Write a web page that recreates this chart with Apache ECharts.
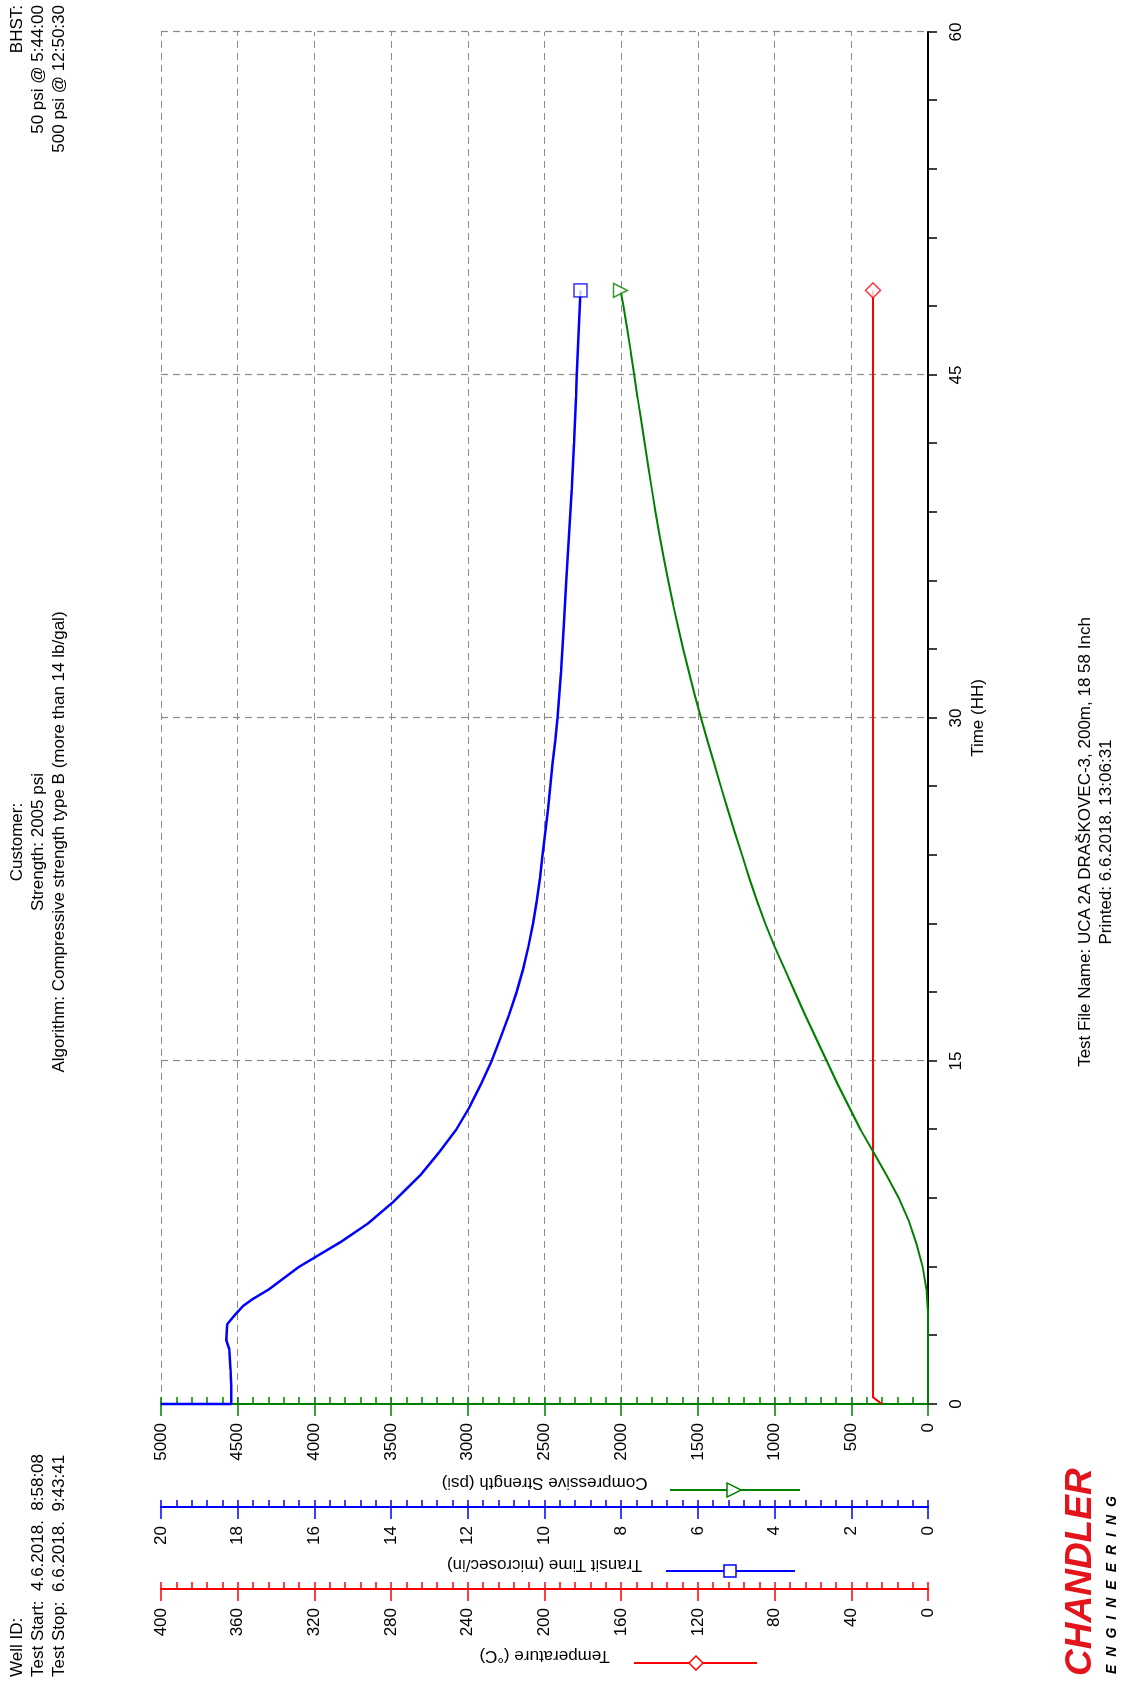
<!DOCTYPE html>
<html>
<head>
<meta charset="utf-8">
<script src="https://cdn.jsdelivr.net/npm/echarts@6/dist/echarts.min.js"></script>
<style>
html,body{margin:0;padding:0;background:#fff;width:1122px;height:1684px;overflow:hidden;}
#page{position:absolute;left:0;top:0;width:1684px;height:1122px;transform-origin:0 0;transform:translate(0px,1684px) rotate(-90deg);font-family:"Liberation Sans",Arial,sans-serif;color:#000;background:#fff;}
#chart{position:absolute;left:0;top:0;width:1684px;height:1122px;}
.t{position:absolute;font-size:17px;line-height:21px;white-space:pre;}
</style>
</head>
<body>
<div id="page">
  <div id="chart"></div>
  <div class="t" style="left:7px;top:6px;text-align:left;">Well ID:
Test Start:  4.6.2018.  8:58:08
Test Stop:  6.6.2018.  9:43:41</div>
  <div class="t" style="left:0;width:1684px;top:6px;text-align:center;">Customer:
Strength: 2005 psi
Algorithm: Compressive strength type B (more than 14 lb/gal)</div>
  <div class="t" style="right:5px;top:6px;text-align:right;">BHST:
50 psi @ 5:44:00
500 psi @ 12:50:30</div>
  <div class="t" style="left:0;width:1684px;top:1074px;text-align:center;">Test File Name: UCA 2A DRAŠKOVEC-3, 200m, 18 58 Inch
Printed: 6.6.2018. 13:06:31</div>
  <div style="position:absolute;left:8px;top:1058px;font:italic bold 37px 'Liberation Sans',Arial,sans-serif;color:#e3141b;line-height:42px;white-space:pre;">CHANDLER</div>
  <div style="position:absolute;left:10px;top:1103px;font:italic bold 14px 'Liberation Sans',Arial,sans-serif;color:#000;letter-spacing:8px;line-height:17px;white-space:pre;">ENGINEERING</div>
</div>
<script>
// ---- data ----
const timeTicks = [0, 15, 30, 45, 60];

const strengthTime = [0, 4.0, 5, 6, 7, 8, 9, 10, 11, 12, 13, 14, 15, 16, 17, 18, 19, 20, 21, 22, 23, 24, 25, 26, 27, 28, 29, 30, 31, 32, 33, 34, 35, 36, 37, 38, 39, 40, 41, 42, 43, 44, 45, 46, 47, 48, 48.7];
const strengthPsi = [0, 0, 10, 35, 75, 125, 190, 270, 355, 440, 515, 590, 660, 730, 800, 867, 933, 1000, 1060, 1115, 1165, 1212, 1260, 1305, 1350, 1393, 1437, 1480, 1520, 1558, 1595, 1630, 1663, 1693, 1722, 1750, 1776, 1800, 1824, 1847, 1870, 1893, 1915, 1937, 1960, 1985, 2005];

const transitTime = [0, 0, 0.8, 1.5, 2.4, 2.8, 3.5, 3.9, 4.3, 4.6, 5.0, 5.5, 6.0, 6.4, 7.1, 7.9, 8.8, 10, 11, 12, 13, 14, 15, 16, 17, 18, 19, 20, 21, 22, 23, 24, 25, 26, 27, 28, 29, 30, 32, 34, 36, 38, 40, 42, 44, 45, 47, 48.7];
const transitUs = [20, 18.17, 18.17, 18.19, 18.22, 18.3, 18.27, 18.07, 17.85, 17.6, 17.2, 16.8, 16.4, 16.0, 15.3, 14.6, 13.97, 13.24, 12.75, 12.3, 11.95, 11.65, 11.38, 11.15, 10.93, 10.73, 10.56, 10.42, 10.3, 10.2, 10.12, 10.05, 9.98, 9.91, 9.85, 9.79, 9.72, 9.66, 9.57, 9.5, 9.43, 9.36, 9.29, 9.23, 9.18, 9.16, 9.11, 9.06];

const tempTime = [0, 0.3, 48.7];
const tempC = [24, 28.7, 28.7];

// ---- build ----
const pairs = (xs, ys) => xs.map((x, i) => [x, ys[i]]);
const last = (xs, ys) => [[xs[xs.length - 1], ys[ys.length - 1]]];

const GREEN = '#008000', BLUE = '#0000ff', RED = '#ff0000';
const FONT = 'Liberation Sans';
const gridLine = { show: true, lineStyle: { color: '#8a8a8a', width: 1.2, type: [7, 5] } };
const plain = v => String(Math.round(v * 100) / 100);

function mainAxis(color, min, max, interval, offset, name, nameGap, split) {
  return {
    type: 'value', position: 'left', min, max, interval, offset,
    axisLine: { show: true, onZero: false, lineStyle: { color, width: 2 } },
    axisTick: { show: true, inside: false, length: 12, lineStyle: { color, width: 1.5 } },
    axisLabel: { color: '#000', fontSize: 17, fontFamily: FONT, margin: 19, formatter: plain },
    splitLine: split ? gridLine : { show: false },
    name, nameLocation: 'middle', nameRotate: 90, nameGap,
    nameTextStyle: { color: '#000', fontSize: 17, fontFamily: FONT }
  };
}
function minorAxis(color, min, max, interval, offset) {
  return {
    type: 'value', position: 'left', min, max, interval, offset,
    axisLine: { show: true, onZero: false, lineStyle: { color, width: 2 } },
    axisTick: { show: true, inside: true, length: 7, lineStyle: { color, width: 1.5 } },
    axisLabel: { show: false },
    splitLine: { show: false }
  };
}

const chart = echarts.init(document.getElementById('chart'), null, { renderer: 'canvas' });
chart.setOption({
  animation: false,
  backgroundColor: '#fff',
  textStyle: { fontFamily: FONT },
  grid: { left: 280, right: 32, top: 161, bottom: 194, containLabel: false },
  xAxis: {
    type: 'value', min: timeTicks[0], max: timeTicks[timeTicks.length - 1], interval: timeTicks[1] - timeTicks[0],
    axisLine: { show: true, onZero: false, lineStyle: { color: '#000', width: 2 } },
    axisTick: { show: true, length: 9, lineStyle: { color: '#000', width: 1.5 } },
    minorTick: { show: true, splitNumber: 5, length: 9, lineStyle: { color: '#000', width: 1.5 } },
    axisLabel: { color: '#000', fontSize: 17, fontFamily: FONT, margin: 20, formatter: plain },
    splitLine: gridLine,
    name: 'Time (HH)', nameLocation: 'middle', nameGap: 40,
    nameTextStyle: { color: '#000', fontSize: 17, fontFamily: FONT }
  },
  yAxis: [
    mainAxis(GREEN, 0, 5000, 500, 0, 'Compressive Strength (psi)', 70, true),
    minorAxis(GREEN, 0, 5000, 100, 0),
    mainAxis(BLUE, 0, 20, 2, 103, 'Transit Time (microsec/in)', 47, false),
    minorAxis(BLUE, 0, 20, 0.4, 103),
    mainAxis(RED, 0, 400, 40, 185, 'Temperature (°C)', 56, false),
    minorAxis(RED, 0, 400, 8, 185)
  ],
  series: [
    { type: 'line', yAxisIndex: 4, data: pairs(tempTime, tempC), showSymbol: false, lineStyle: { color: RED, width: 2 }, z: 3 },
    { type: 'line', yAxisIndex: 0, data: pairs(strengthTime, strengthPsi), showSymbol: false, lineStyle: { color: GREEN, width: 2 }, z: 4 },
    { type: 'line', yAxisIndex: 2, data: pairs(transitTime, transitUs), showSymbol: false, lineStyle: { color: BLUE, width: 2.5 }, z: 5 },
    { type: 'scatter', yAxisIndex: 4, data: last(tempTime, tempC), symbol: 'diamond', symbolSize: 15, itemStyle: { color: '#fff', borderColor: RED, borderWidth: 1.5 }, z: 6 },
    { type: 'scatter', yAxisIndex: 0, data: last(strengthTime, strengthPsi), symbol: 'triangle', symbolRotate: 180, symbolSize: 14, itemStyle: { color: '#fff', borderColor: GREEN, borderWidth: 1.5 }, z: 6 },
    { type: 'scatter', yAxisIndex: 2, data: last(transitTime, transitUs), symbol: 'rect', symbolSize: 13, itemStyle: { color: '#fff', borderColor: BLUE, borderWidth: 1.5 }, z: 6 }
  ],
  graphic: [
    // legend samples beside each axis title
    { type: 'line', shape: { x1: 194, y1: 670, x2: 194, y2: 800 }, style: { stroke: GREEN, lineWidth: 2 } },
    { type: 'polygon', shape: { points: [[187, 727], [201, 727], [194, 741]] }, style: { fill: '#fff', stroke: GREEN, lineWidth: 1.5 } },
    { type: 'line', shape: { x1: 113, y1: 666, x2: 113, y2: 795 }, style: { stroke: BLUE, lineWidth: 2 } },
    { type: 'rect', shape: { x: 107, y: 724, width: 12, height: 12 }, style: { fill: '#fff', stroke: BLUE, lineWidth: 1.5 } },
    { type: 'line', shape: { x1: 21, y1: 634, x2: 21, y2: 757 }, style: { stroke: RED, lineWidth: 2 } },
    { type: 'polygon', shape: { points: [[21, 689], [28, 696], [21, 703], [14, 696]] }, style: { fill: '#fff', stroke: RED, lineWidth: 1.5 } }
  ]
});
</script>
</body>
</html>
